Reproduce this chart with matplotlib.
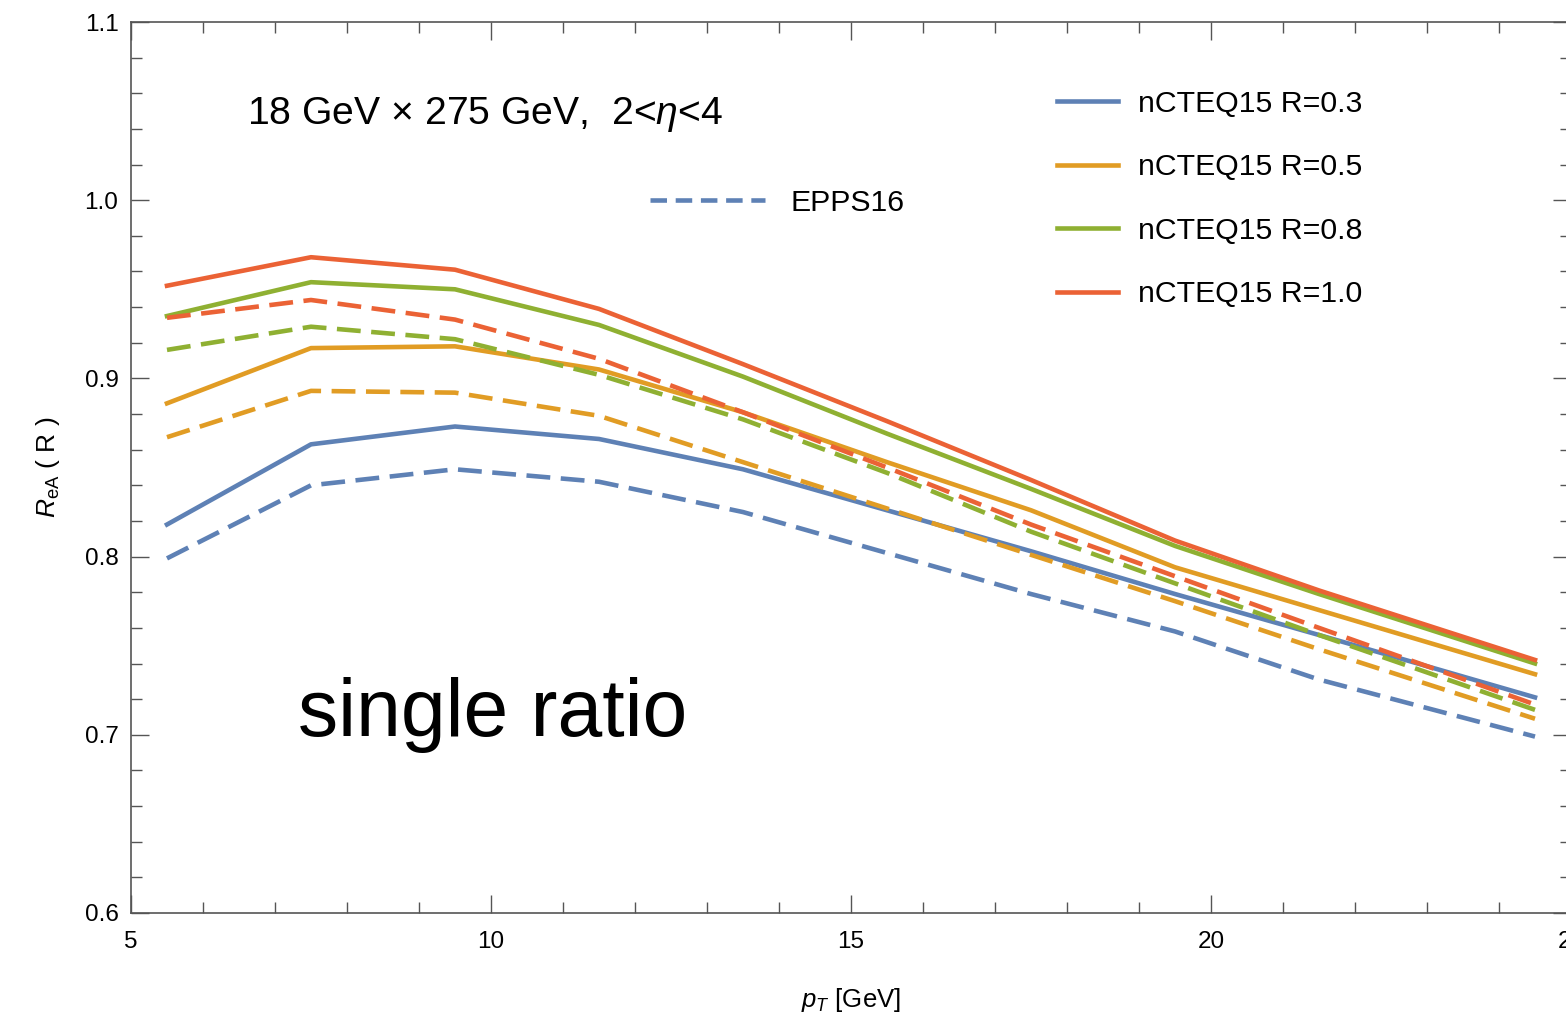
import matplotlib
matplotlib.use('Agg')
import matplotlib.pyplot as plt
from matplotlib.lines import Line2D
from matplotlib.ticker import MultipleLocator

plt.rcParams['font.family'] = ['Liberation Sans', 'DejaVu Sans']
plt.rcParams['mathtext.fontset'] = 'custom'
plt.rcParams['mathtext.rm'] = 'Liberation Sans'
plt.rcParams['mathtext.it'] = 'Liberation Sans:italic'

# jet pT bin centres [GeV]
pt = [5.5, 7.5, 9.5, 11.5, 13.5, 15.5, 17.5, 19.5, 21.5, 24.5]

# nCTEQ15 single ratio for each jet radius
ncteq_03 = [0.818, 0.863, 0.873, 0.866, 0.849, 0.826, 0.803, 0.779, 0.756, 0.721]
ncteq_05 = [0.886, 0.917, 0.918, 0.905, 0.881, 0.853, 0.826, 0.794, 0.770, 0.734]
ncteq_08 = [0.935, 0.954, 0.950, 0.930, 0.901, 0.869, 0.838, 0.806, 0.779, 0.740]
ncteq_10 = [0.952, 0.968, 0.961, 0.939, 0.908, 0.876, 0.843, 0.809, 0.781, 0.742]

# EPPS16, same radii
epps_03 = [0.799, 0.840, 0.849, 0.842, 0.825, 0.802, 0.779, 0.758, 0.731, 0.699]
epps_05 = [0.867, 0.893, 0.892, 0.879, 0.853, 0.827, 0.801, 0.775, 0.748, 0.709]
epps_08 = [0.916, 0.929, 0.922, 0.902, 0.877, 0.847, 0.814, 0.785, 0.756, 0.714]
epps_10 = [0.934, 0.944, 0.933, 0.911, 0.881, 0.850, 0.818, 0.789, 0.760, 0.717]

radii = ['0.3', '0.5', '0.8', '1.0']
colors = ['#5E81B5', '#E19C24', '#8FB032', '#EB6235']
ncteq = [ncteq_03, ncteq_05, ncteq_08, ncteq_10]
epps = [epps_03, epps_05, epps_08, epps_10]

W, H = 1566, 1018
fig = plt.figure(figsize=(W / 100, H / 100), dpi=100)
ax = fig.add_axes([131 / W, 1 - 913 / H, 1440 / W, 891 / H])

lw = 3.3
dash = (5.2, 2.3)
for c, yn, ye in zip(colors, ncteq, epps):
    ax.plot(pt, ye, color=c, lw=lw, dashes=dash, solid_capstyle='butt')
    ax.plot(pt, yn, color=c, lw=lw)

ax.set_xlim(5, 25)
ax.set_ylim(0.6, 1.1)
ax.xaxis.set_major_locator(MultipleLocator(5))
ax.xaxis.set_minor_locator(MultipleLocator(1))
ax.yaxis.set_major_locator(MultipleLocator(0.1))
ax.yaxis.set_minor_locator(MultipleLocator(0.02))
ax.tick_params(which='both', direction='in', top=True, right=True,
               color='#555555', width=1.0, labelsize=17.5)
ax.tick_params(which='major', length=13)
ax.tick_params(which='minor', length=8)
ax.tick_params(axis='x', pad=13)
ax.tick_params(axis='y', pad=9)
for s in ax.spines.values():
    s.set_color('#555555')
    s.set_linewidth(1.2)

ax.set_xlabel(r'$p_T$ [GeV]', fontsize=18.5, labelpad=24)
ax.set_ylabel(r'$R_{\mathrm{eA}}$ ( R )', fontsize=19, labelpad=16)

h1 = [Line2D([], [], color=c, lw=lw) for c in colors]
leg1 = ax.legend(h1, ['nCTEQ15 R=' + r for r in radii], loc='upper left',
                 bbox_to_anchor=(1057 / W, 1 - 90 / H), bbox_transform=fig.transFigure,
                 frameon=False, fontsize=21.8, handlelength=2.0, handletextpad=0.66,
                 labelspacing=1.17, borderpad=0, borderaxespad=0)
ax.add_artist(leg1)

h2 = [Line2D([], [], color=colors[0], lw=lw, dashes=(3.6, 1.9))]
ax.legend(h2, ['EPPS16'], loc='upper left',
          bbox_to_anchor=(650 / W, 1 - 189 / H), bbox_transform=fig.transFigure,
          frameon=False, fontsize=21.8, handlelength=3.8, handletextpad=0.85,
          borderpad=0, borderaxespad=0)

fig.text(247 / W, 1 - 114 / H, r'18 GeV × 275 GeV,  2<$\eta$<4',
         fontsize=28.2, va='center', ha='left')
fig.text(298 / W, 1 - 715 / H, 'single ratio', fontsize=58, va='center', ha='left')

fig.savefig('out.png', dpi=100)
